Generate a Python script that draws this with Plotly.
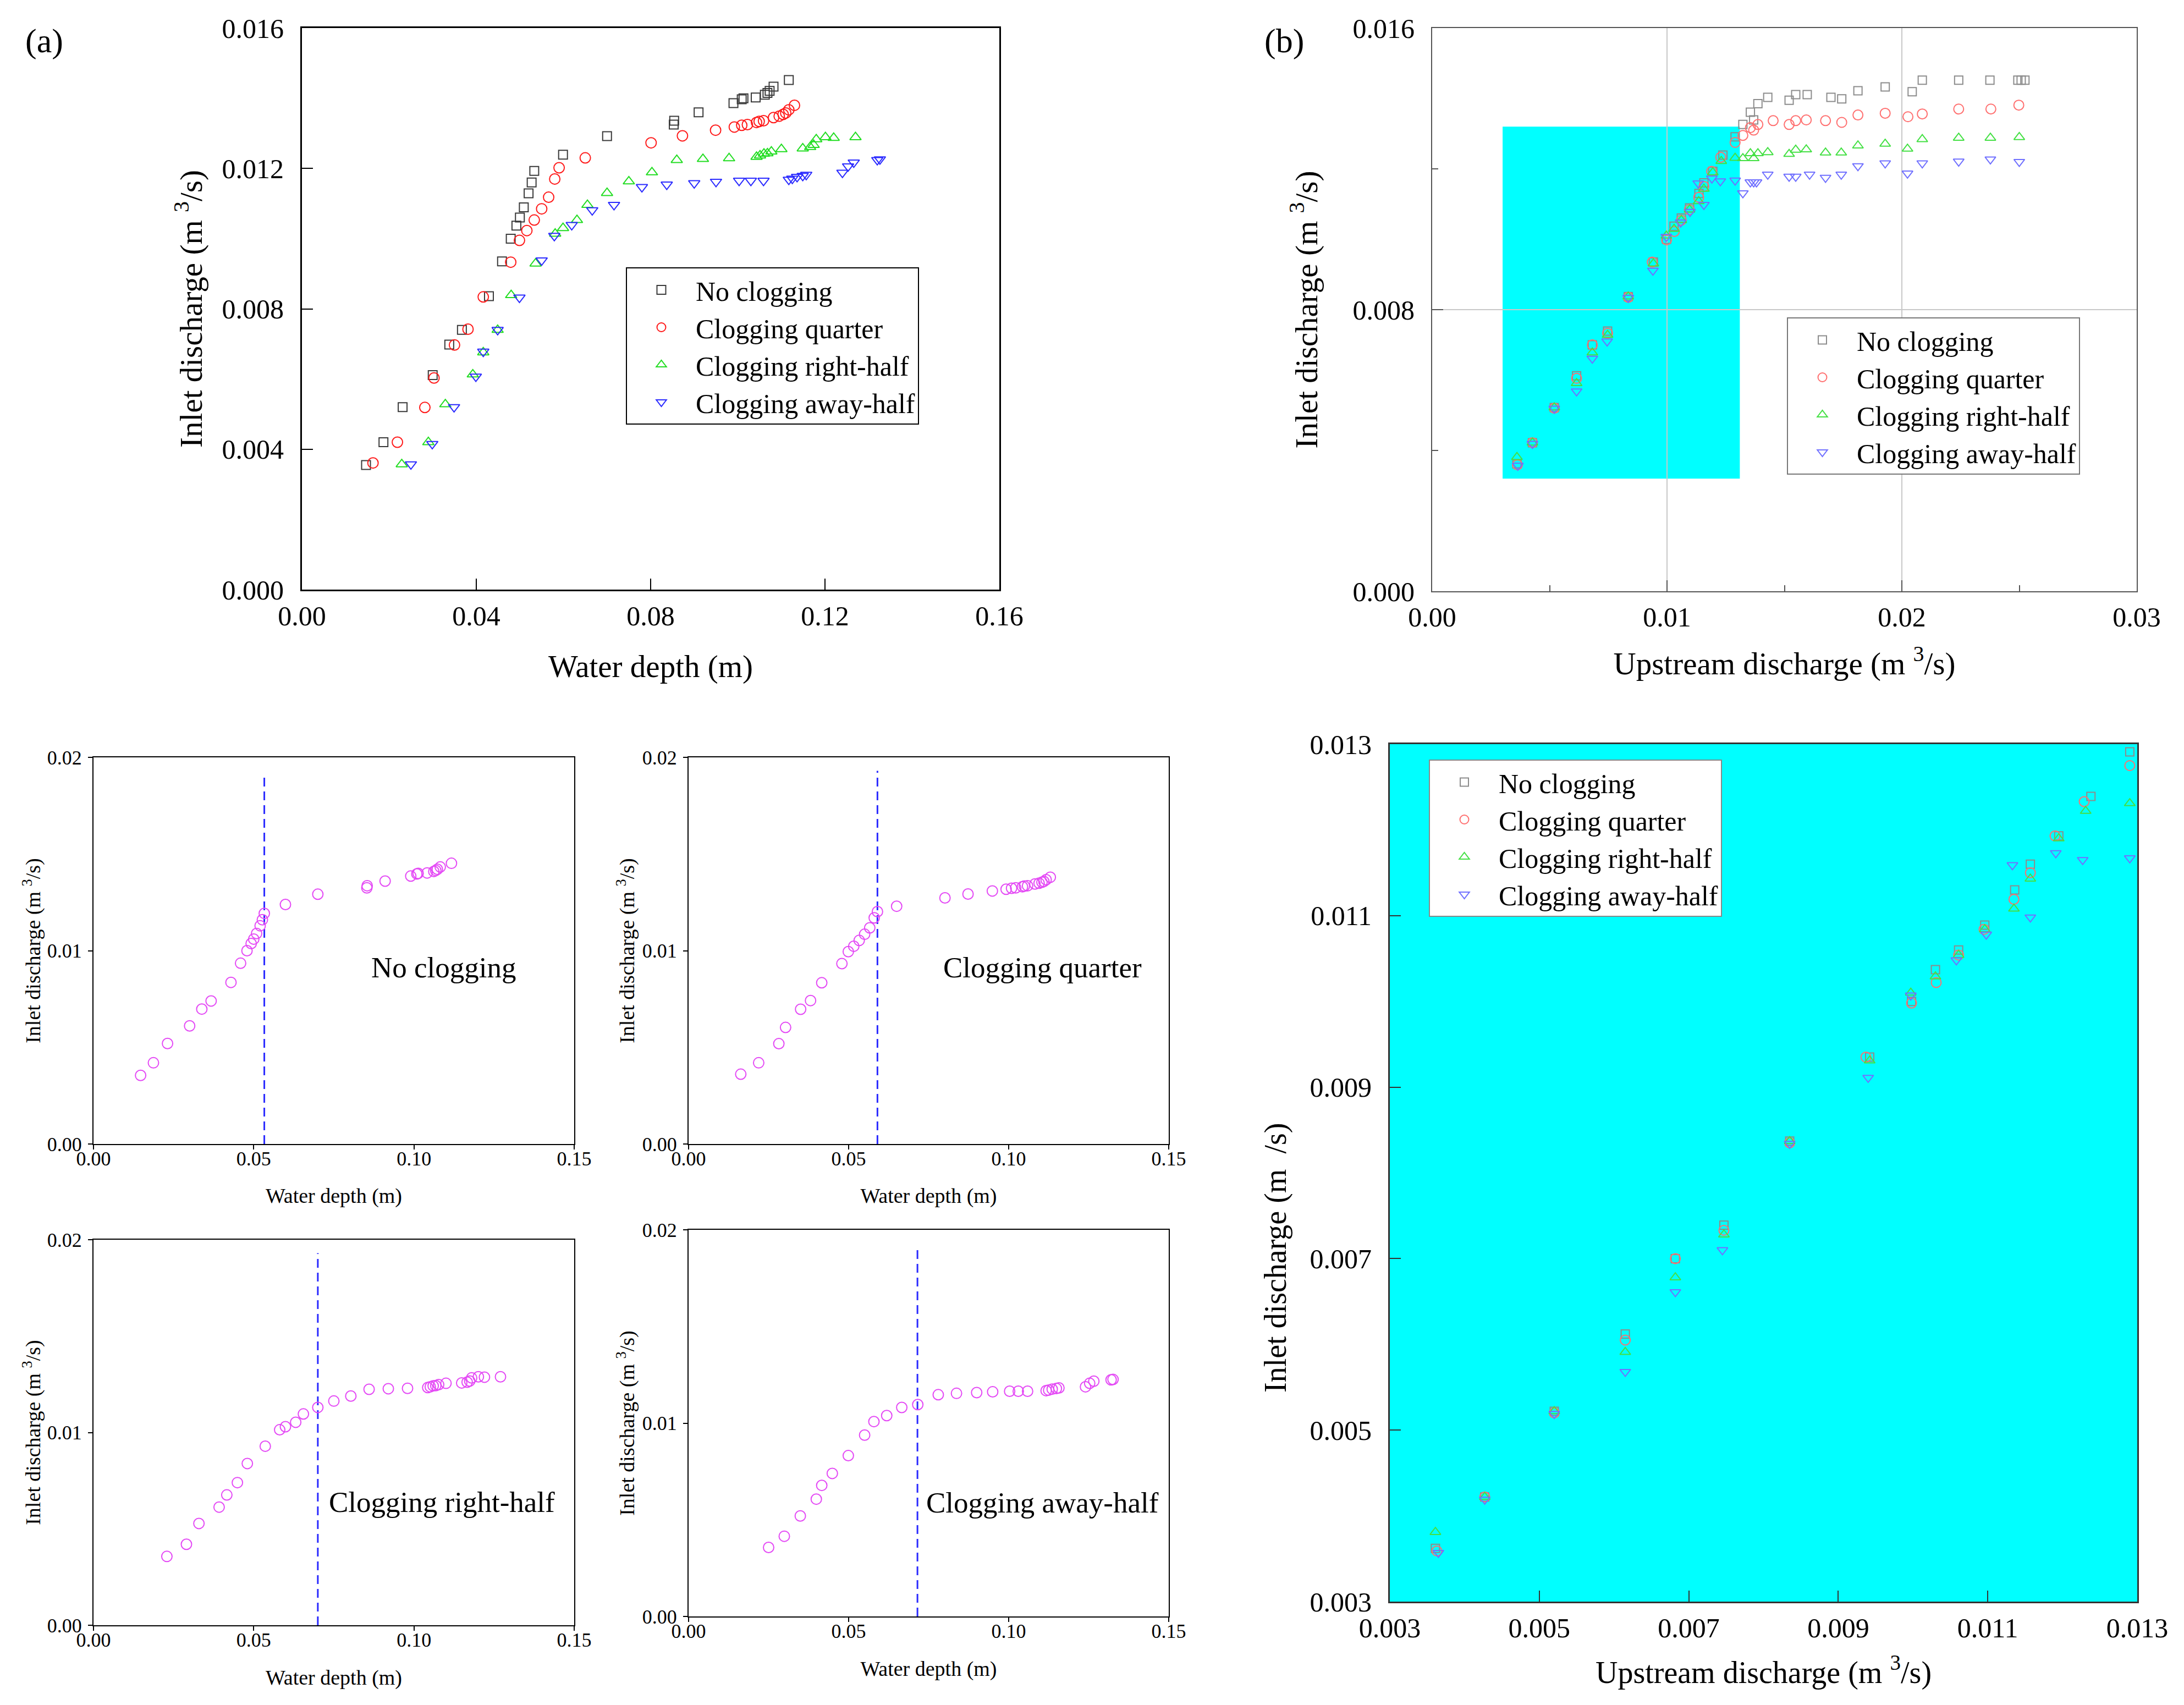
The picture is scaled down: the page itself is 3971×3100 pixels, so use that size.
import plotly.graph_objects as go

W, H = 3971, 3100
FONT = "Liberation Serif"

series_names = ["No clogging", "Clogging quarter", "Clogging right-half", "Clogging away-half"]

# ---------- Panel (a) / small panels: inlet discharge vs water depth ----------
nc_depth = [0.0147, 0.0187, 0.0231, 0.0300, 0.0338, 0.0367, 0.0429, 0.0459, 0.0479, 0.0492,
            0.0500, 0.0509, 0.0520, 0.0527, 0.0533, 0.0599, 0.0700, 0.0853, 0.0854, 0.0910,
            0.0990, 0.1009, 0.1013, 0.1041, 0.1062, 0.1068, 0.1073, 0.1082, 0.1117]
nc_inlet = [0.00355, 0.0042, 0.0052, 0.00611, 0.00698, 0.0074, 0.00836, 0.00935, 0.0100, 0.01037,
            0.0106, 0.01089, 0.01129, 0.0116, 0.01193, 0.01239, 0.01292, 0.01325, 0.01336, 0.0136,
            0.01386, 0.01397, 0.0140, 0.01402, 0.0141, 0.01415, 0.01421, 0.01433, 0.01452]

qt_depth = [0.0163, 0.0219, 0.0282, 0.0303, 0.0350, 0.0381, 0.0416, 0.0479, 0.0499, 0.0516,
            0.0533, 0.0550, 0.0566, 0.0580, 0.0590, 0.0650, 0.0801, 0.0873, 0.0949, 0.0992,
            0.1009, 0.1022, 0.1043, 0.1049, 0.1059, 0.1082, 0.1095, 0.1104, 0.1110, 0.1117, 0.1130]
qt_inlet = [0.00361, 0.0042, 0.00519, 0.00603, 0.00697, 0.00742, 0.00834, 0.00933, 0.00995, 0.01023,
            0.01053, 0.01085, 0.01118, 0.0117, 0.01202, 0.0123, 0.01273, 0.01293, 0.01309, 0.01318,
            0.01323, 0.01325, 0.01331, 0.01334, 0.01336, 0.01345, 0.01349, 0.01354, 0.01358, 0.01367, 0.0138]

rh_depth = [0.0229, 0.0290, 0.0329, 0.0392, 0.0416, 0.0449, 0.0480, 0.0536, 0.0581, 0.0599,
            0.0631, 0.0655, 0.0700, 0.0750, 0.0803, 0.0860, 0.0920, 0.0980, 0.1043, 0.1051,
            0.1060, 0.1068, 0.1077, 0.1100, 0.1149, 0.1166, 0.1174, 0.1180, 0.1201, 0.1220, 0.1270]
rh_inlet = [0.00357, 0.0042, 0.00528, 0.00613, 0.00676, 0.0074, 0.00839, 0.00929, 0.01014, 0.0103,
            0.01053, 0.01096, 0.0113, 0.01163, 0.01189, 0.01224, 0.01227, 0.01229, 0.01233, 0.01237,
            0.01242, 0.01243, 0.01248, 0.01255, 0.01257, 0.01261, 0.01267, 0.01283, 0.01289, 0.01287, 0.01289]

ah_depth = [0.0250, 0.0299, 0.0349, 0.0399, 0.0416, 0.0449, 0.0499, 0.0550, 0.0579, 0.0619,
            0.0666, 0.0716, 0.0780, 0.0837, 0.0900, 0.0950, 0.1003, 0.1030, 0.1059, 0.1117,
            0.1125, 0.1136, 0.1149, 0.1157, 0.1240, 0.1253, 0.1266, 0.1320, 0.1326]
ah_inlet = [0.00357, 0.00415, 0.0052, 0.00607, 0.00678, 0.0074, 0.00832, 0.00938, 0.01008, 0.01039,
            0.01081, 0.01096, 0.01147, 0.01154, 0.01158, 0.01162, 0.01165, 0.01165, 0.01165, 0.01168,
            0.01171, 0.01176, 0.01179, 0.01182, 0.01188, 0.01206, 0.01217, 0.01224, 0.01226]

# critical depths (dashed lines in small panels) and the dashed-line top
critical_depth = [0.0533, 0.0590, 0.0700, 0.0715]
critical_line_top = [0.0191, 0.0193, 0.0193, 0.0191]

# ---------- Panel (b) / zoom panel: inlet discharge vs upstream discharge ----------
nc_up = [0.00361, 0.00427, 0.0052, 0.00615, 0.00682, 0.00747, 0.00835, 0.00942, 0.00998, 0.0103,
         0.01061, 0.01096, 0.01136, 0.01157, 0.01195, 0.01238, 0.0129, 0.01323, 0.01355, 0.01369,
         0.01387, 0.01429, 0.0152, 0.01548, 0.01597, 0.01698, 0.01744, 0.01813, 0.01929, 0.02044,
         0.02087, 0.02242, 0.02375, 0.02494, 0.02508, 0.02524]
nc_q = [0.00362, 0.00422, 0.00522, 0.00612, 0.0070, 0.00739, 0.00837, 0.00935, 0.0100, 0.01037,
        0.0106, 0.01089, 0.0113, 0.0116, 0.01193, 0.01239, 0.01291, 0.01326, 0.01361, 0.01339,
        0.01385, 0.01403, 0.01395, 0.01411, 0.01411, 0.01403, 0.01399, 0.01422, 0.01433, 0.01419,
        0.01452, 0.01452, 0.01452, 0.01452, 0.01452, 0.01452]

qt_up = [0.00363, 0.00427, 0.0052, 0.00615, 0.00682, 0.00747, 0.00835, 0.00937, 0.00998, 0.01031,
         0.01061, 0.01095, 0.01135, 0.01157, 0.0119, 0.01229, 0.0129, 0.01323, 0.01355, 0.01369,
         0.01387, 0.01452, 0.0152, 0.01548, 0.01593, 0.01675, 0.01744, 0.01813, 0.01929, 0.02026,
         0.02087, 0.02242, 0.02379, 0.02498]
qt_q = [0.00359, 0.00422, 0.0052, 0.00605, 0.0070, 0.00733, 0.00835, 0.00935, 0.00998, 0.01022,
        0.01054, 0.01084, 0.01119, 0.0115, 0.01193, 0.01233, 0.01275, 0.01295, 0.01317, 0.0131,
        0.01326, 0.01337, 0.01326, 0.01337, 0.01339, 0.01337, 0.01332, 0.01353, 0.01358, 0.01348,
        0.01356, 0.0137, 0.0137, 0.01381]

rh_up = [0.00361, 0.00427, 0.0052, 0.00615, 0.00682, 0.00747, 0.00835, 0.00942, 0.00997, 0.0103,
         0.01061, 0.01096, 0.01135, 0.01157, 0.01195, 0.01231, 0.0129, 0.01323, 0.01355, 0.01369,
         0.01387, 0.01429, 0.0152, 0.01548, 0.01593, 0.01675, 0.01742, 0.01813, 0.01929, 0.02024,
         0.02087, 0.02242, 0.02377, 0.025]
rh_q = [0.00381, 0.00422, 0.00522, 0.00591, 0.00678, 0.00728, 0.00837, 0.00931, 0.0101, 0.01029,
        0.01054, 0.01084, 0.01108, 0.01143, 0.0119, 0.01222, 0.01231, 0.0123, 0.01244, 0.0123,
        0.01244, 0.01247, 0.01242, 0.01254, 0.01255, 0.01246, 0.01246, 0.01266, 0.01271, 0.01257,
        0.01284, 0.01288, 0.01288, 0.0129]

ah_up = [0.00365, 0.00427, 0.0052, 0.00615, 0.00682, 0.00745, 0.00835, 0.0094, 0.00997, 0.01058,
         0.01098, 0.01133, 0.01157, 0.01191, 0.01227, 0.0129, 0.01323, 0.01355, 0.01369, 0.01381,
         0.01429, 0.0152, 0.01548, 0.01607, 0.01675, 0.01742, 0.01813, 0.01929, 0.02024, 0.02087,
         0.02242, 0.02377, 0.025]
ah_q = [0.00357, 0.00419, 0.00519, 0.00568, 0.00661, 0.0071, 0.00834, 0.00911, 0.01007, 0.01048,
        0.01078, 0.01159, 0.01098, 0.01173, 0.01165, 0.01167, 0.01131, 0.01162, 0.01162, 0.01162,
        0.01184, 0.01178, 0.01178, 0.01184, 0.01175, 0.01184, 0.01208, 0.01216, 0.01187, 0.01216,
        0.01221, 0.01227, 0.0122]

# highlighted window in panel (b): [x0, x1, y0, y1]
zoom_window = [0.0030, 0.0131, 0.0032, 0.0132]

depth_sets = [(nc_depth, nc_inlet), (qt_depth, qt_inlet), (rh_depth, rh_inlet), (ah_depth, ah_inlet)]
up_sets = [(nc_up, nc_q), (qt_up, qt_q), (rh_up, rh_q), (ah_up, ah_q)]

symbols = ["square-open", "circle-open", "triangle-up-open", "triangle-down-open"]
colors_a = ["#3a3a3a", "#ff1a1a", "#22dd22", "#2a2aff"]
colors_b = ["#8c8c8c", "#ff7070", "#44e044", "#7070ff"]
sizes = [16, 19, 18, 18]

depth_title = "Water depth (m)"
upstream_title = "Upstream discharge (m <sup>3</sup>/s)"
inlet_title = "Inlet discharge (m <sup>3</sup>/s)"
inlet_title_zoom = "Inlet discharge (m  /s)"


def dx(a, b):
    return [a / W, b / W]


def dy(top, bottom):
    return [1 - bottom / H, 1 - top / H]


def px(x):
    return x / W


def py(y):
    return 1 - y / H


fig = go.Figure()

# panel (a)
for (xs, ys), nm, sym, col, sz in zip(depth_sets, series_names, symbols, colors_a, sizes):
    fig.add_trace(go.Scatter(x=xs, y=ys, mode="markers", name=nm, xaxis="x", yaxis="y",
                             legend="legend", cliponaxis=False,
                             marker=dict(symbol=sym, size=sz, color=col, line=dict(width=2, color=col))))

# panel (b)
for (xs, ys), nm, sym, col, sz in zip(up_sets, series_names, symbols, colors_b, sizes):
    fig.add_trace(go.Scatter(x=xs, y=ys, mode="markers", name=nm, xaxis="x2", yaxis="y2",
                             legend="legend2",
                             marker=dict(symbol=sym, size=sz - 1, color=col, line=dict(width=2, color=col))))

# zoom panel (bottom right)
for (xs, ys), nm, sym, col, sz in zip(up_sets, series_names, symbols, colors_b, sizes):
    fig.add_trace(go.Scatter(x=xs, y=ys, mode="markers", name=nm, xaxis="x7", yaxis="y7",
                             legend="legend3",
                             marker=dict(symbol=sym, size=sz - 1, color=col, line=dict(width=2, color=col))))

# small panels
small_axes = [("x3", "y3"), ("x4", "y4"), ("x5", "y5"), ("x6", "y6")]
for (xs, ys), (xa, ya), cd, top in zip(depth_sets, small_axes, critical_depth, critical_line_top):
    fig.add_trace(go.Scatter(x=[cd, cd], y=[0, top], mode="lines", xaxis=xa, yaxis=ya, showlegend=False,
                             line=dict(color="#2b2bff", width=3, dash="16px,9px")))
    fig.add_trace(go.Scatter(x=xs, y=ys, mode="markers", xaxis=xa, yaxis=ya, showlegend=False,
                             marker=dict(symbol="circle-open", size=19, color="#e44af5",
                                         line=dict(width=2, color="#e44af5"))))


def axis(domain, rng, dtick, fmt, anchor, title, tsize, tstand, tick0=0, ticks="inside", ticklen=20,
         lc="black", lw=3, fs=50, standoff=12, grid=False, minor=None):
    d = dict(domain=domain, range=rng, dtick=dtick, tick0=tick0, tickformat=fmt, anchor=anchor,
             ticks=ticks, ticklen=ticklen, tickwidth=2, tickcolor=lc, showline=True, linecolor=lc,
             linewidth=lw, mirror=True, zeroline=False, showgrid=grid, automargin=True,
             tickfont=dict(family=FONT, size=fs, color="black"), ticklabelstandoff=standoff)
    if title:
        d["title"] = dict(text=title, standoff=tstand, font=dict(family=FONT, size=tsize, color="black"))
    if grid:
        d.update(gridcolor="#c8c8c8", gridwidth=2)
    if minor:
        d["minor"] = minor
    return d


small_x = dict(ticks="outside", ticklen=8, lw=2, fs=36, standoff=-14)
small_y = dict(ticks="outside", ticklen=8, lw=2, fs=36, standoff=4)

layout = dict(
    template="none",
    width=W, height=H, margin=dict(l=0, r=0, t=0, b=0, autoexpand=False),
    paper_bgcolor="white", plot_bgcolor="white", font=dict(family=FONT, color="black"),
    # panel (a)
    xaxis=axis(dx(549, 1817), [0, 0.16], 0.04, ".2f", "y", depth_title, 57, 45, standoff=2),
    yaxis=axis(dy(51, 1072), [0, 0.016], 0.004, ".3f", "x", inlet_title, 57, 18, standoff=20),
    # panel (b)
    xaxis2=axis(dx(2604, 3885), [0, 0.03], 0.01, ".2f", "y2", upstream_title, 57, 37,
                lc="#555555", lw=2, grid=True, standoff=2,
                minor=dict(dtick=0.005, ticks="inside", ticklen=11, tickcolor="#555555", showgrid=False)),
    yaxis2=axis(dy(51, 1075), [0, 0.016], 0.008, ".3f", "x2", inlet_title, 57, 46,
                lc="#555555", lw=2, grid=True, standoff=20,
                minor=dict(dtick=0.004, ticks="inside", ticklen=11, tickcolor="#555555", showgrid=False)),
    # small panels
    xaxis3=axis(dx(170, 1044), [0, 0.15], 0.05, ".2f", "y3", depth_title, 38, 34, **small_x),
    yaxis3=axis(dy(1377, 2080), [0, 0.02], 0.01, ".2f", "x3", inlet_title, 38, 0, **small_y),
    xaxis4=axis(dx(1252, 2125), [0, 0.15], 0.05, ".2f", "y4", depth_title, 38, 34, **small_x),
    yaxis4=axis(dy(1377, 2080), [0, 0.02], 0.01, ".2f", "x4", inlet_title, 38, 2, **small_y),
    xaxis5=axis(dx(170, 1044), [0, 0.15], 0.05, ".2f", "y5", depth_title, 38, 35, **small_x),
    yaxis5=axis(dy(2254, 2955), [0, 0.02], 0.01, ".2f", "x5", inlet_title, 38, 0, **small_y),
    xaxis6=axis(dx(1252, 2125), [0, 0.15], 0.05, ".2f", "y6", depth_title, 38, 35, **small_x),
    yaxis6=axis(dy(2236, 2939), [0, 0.02], 0.01, ".2f", "x6", inlet_title, 38, 2, **small_y),
    # zoom panel
    xaxis7=axis(dx(2527, 3886), [0.003, 0.013], 0.002, ".3f", "y7", upstream_title, 56, 34,
                tick0=0.003, lc="#333333", standoff=2),
    yaxis7=axis(dy(1353, 2912), [0.003, 0.013], 0.002, ".3f", "x7", None, 56, 0,
                tick0=0.003, lc="#333333", standoff=20),
    legend=dict(x=px(1138), y=py(486), xanchor="left", yanchor="top", bgcolor="white",
                bordercolor="black", borderwidth=2, font=dict(family=FONT, size=50, color="black"),
                itemwidth=115, tracegroupgap=0),
    legend2=dict(x=px(3249), y=py(577), xanchor="left", yanchor="top", bgcolor="white",
                 bordercolor="#777777", borderwidth=2, font=dict(family=FONT, size=50, color="black"),
                 itemwidth=115, tracegroupgap=0),
    legend3=dict(x=px(2598), y=py(1381), xanchor="left", yanchor="top", bgcolor="white",
                 bordercolor="#888888", borderwidth=2, font=dict(family=FONT, size=50, color="black"),
                 itemwidth=115, tracegroupgap=0),
    shapes=[
        dict(type="rect", xref="x2", yref="y2", x0=zoom_window[0], x1=zoom_window[1],
             y0=zoom_window[2], y1=zoom_window[3], fillcolor="#00ffff", line=dict(width=0), layer="below"),
        dict(type="rect", xref="x7 domain", yref="y7 domain", x0=0, x1=1, y0=0, y1=1,
             fillcolor="#00ffff", line=dict(width=0), layer="below"),
    ],
)

ann = [
    dict(x=px(80), y=py(75), xref="paper", yref="paper", text="(a)", showarrow=False,
         xanchor="center", yanchor="middle", font=dict(family=FONT, size=62, color="black")),
    dict(x=px(2335), y=py(75), xref="paper", yref="paper", text="(b)", showarrow=False,
         xanchor="center", yanchor="middle", font=dict(family=FONT, size=62, color="black")),
    # zoom panel y title sits lower than the axis centre in the original
    dict(x=px(2319), y=py(2287), xref="paper", yref="paper", text=inlet_title_zoom, showarrow=False,
         textangle=-90, xanchor="center", yanchor="middle", font=dict(family=FONT, size=56, color="black")),
]

# labels inside small panels (data coordinates)
label_pos = [(0.1093, 0.00914), (0.1106, 0.00914), (0.1088, 0.0064), (0.1105, 0.0059)]
for (xa, ya), nm, (lx, ly) in zip(small_axes, series_names, label_pos):
    ann.append(dict(x=lx, y=ly, xref=xa, yref=ya, text=nm, showarrow=False, xanchor="center",
                    yanchor="middle", font=dict(family=FONT, size=53, color="black")))

layout["annotations"] = ann
fig.update_layout(**layout)
fig.write_html("out.html")
